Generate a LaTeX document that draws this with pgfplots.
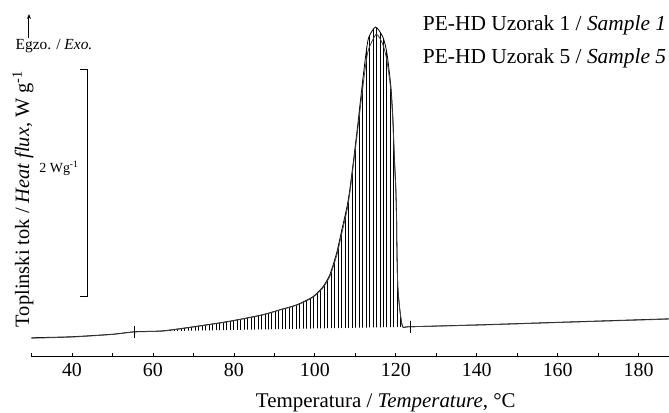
\documentclass[border=0pt]{standalone}
\usepackage{pgfplots}
\pgfplotsset{compat=1.18}
\usepgfplotslibrary{fillbetween}
\usetikzlibrary{patterns.meta,arrows.meta}
\usepackage{fontspec}
\setmainfont{Liberation Serif}
\begin{document}
\begin{tikzpicture}
\path (0,0) rectangle (669bp,413bp);
\begin{axis}[
  scale only axis,
  width=637.5bp, height=357bp,
  at={(31.5bp,56bp)}, anchor=south west,
  xmin=30, xmax=187.4, ymin=0.026, ymax=3.172,
  axis x line*=bottom, axis y line=none,
  axis line style={line width=0.8pt,-},
  xtick={40,60,...,180}, minor xtick={30,50,...,190},
  tick align=inside, major tick length=4bp, minor tick length=4bp,
  tick style={line width=0.7pt, black},
  xticklabel style={font=\fontsize{20}{22}\selectfont, inner sep=0pt, yshift=-6bp},
  /pgf/number format/assume math mode=true,
  clip=false,
]
% integration baseline (hidden)
\addplot[draw=none, name path=base, forget plot] coordinates {(55.5,0.247) (123.5,0.291)};
% Sample 1
\addplot[name path=s1, black, line width=0.8pt, smooth, tension=0.4] coordinates {
(30,0.194) (40,0.203) (50,0.225) (55.5,0.247) (62.5,0.255) (71,0.296) (79,0.340)
(87,0.396) (91.4,0.441) (95.6,0.485) (99.5,0.555) (102,0.643) (103.7,0.749)
(105.4,0.943) (106.7,1.15) (107.9,1.34) (108.6,1.49) (109.6,1.77) (110.6,2.07)
(111.6,2.39) (112.6,2.69) (113.3,2.84) (115,2.934) (116.8,2.846) (117.8,2.705)
(118.8,2.405) (119.3,2.115) (119.6,1.824) (120,1.524) (120.2,1.233) (120.3,0.943)
(120.5,0.643) (121,0.441) (121.7,0.291) (123.5,0.291) (140.7,0.308) (160,0.330)
(187.4,0.361)};
% Sample 5
\addplot[black!75, line width=0.8pt, smooth, tension=0.4] coordinates {
(30,0.190) (40,0.200) (50,0.223) (55.5,0.245) (62.5,0.253) (71,0.294) (79,0.338)
(87,0.394) (91.4,0.439) (95.6,0.482) (99.5,0.550) (102,0.635) (103.7,0.735)
(105.4,0.92) (106.7,1.12) (107.9,1.31) (108.6,1.46) (109.6,1.74) (110.6,2.03)
(111.6,2.33) (112.6,2.61) (113.3,2.74) (115.2,2.87) (116.8,2.78) (117.8,2.64)
(118.8,2.37) (119.3,2.09) (119.6,1.80) (120,1.50) (120.2,1.22) (120.3,0.93)
(120.5,0.64) (121,0.44) (121.7,0.291) (123.5,0.291) (140.7,0.306) (160,0.328)
(187.4,0.358)};
% hatched area
\addplot[pattern={Lines[angle=90,distance=3.5pt,line width=0.7pt]}, pattern color=black, draw=none]
  fill between[of=s1 and base, soft clip={domain=55.5:123.5}];
% integration limits
\addplot[only marks, mark=|, mark size=6bp, mark options={line width=0.9pt}, black] coordinates {(55.5,0.247) (123.5,0.291)};
% scale bar
\draw[line width=1pt] (axis cs:42,2.555) -- (axis cs:43.9,2.555) -- (axis cs:43.9,0.555) -- (axis cs:42,0.555);
\node[font=\fontsize{14}{16}\selectfont] at (axis cs:36.8,1.69) {2 Wg\textsuperscript{-1}};
\end{axis}
% exo arrow
\draw[-{Stealth[length=5bp,width=4bp]}, line width=1pt] (29bp,375bp) -- (29bp,399bp);
\node[font=\fontsize{15.5}{17}\selectfont] at (54bp,367bp) {Egzo. / \textit{Exo.}};
% legend texts
\node[anchor=west, font=\fontsize{21.5}{23}\selectfont, inner sep=0pt] at (423bp,388bp) {PE-HD Uzorak 1 / \textit{Sample 1}};
\node[anchor=west, font=\fontsize{21.5}{23}\selectfont, inner sep=0pt] at (423bp,355bp) {PE-HD Uzorak 5 / \textit{Sample 5}};
% axis labels
\node[anchor=base, font=\fontsize{21}{23}\selectfont, inner sep=0pt] at (386bp,5.5bp) {Temperatura / \textit{Temperature}, °C};
\node[rotate=90, font=\fontsize{20.5}{22}\selectfont, inner sep=0pt] at (23bp,214bp) {Toplinski tok / \textit{Heat flux}, W g\textsuperscript{-1}};
\end{tikzpicture}
\end{document}
